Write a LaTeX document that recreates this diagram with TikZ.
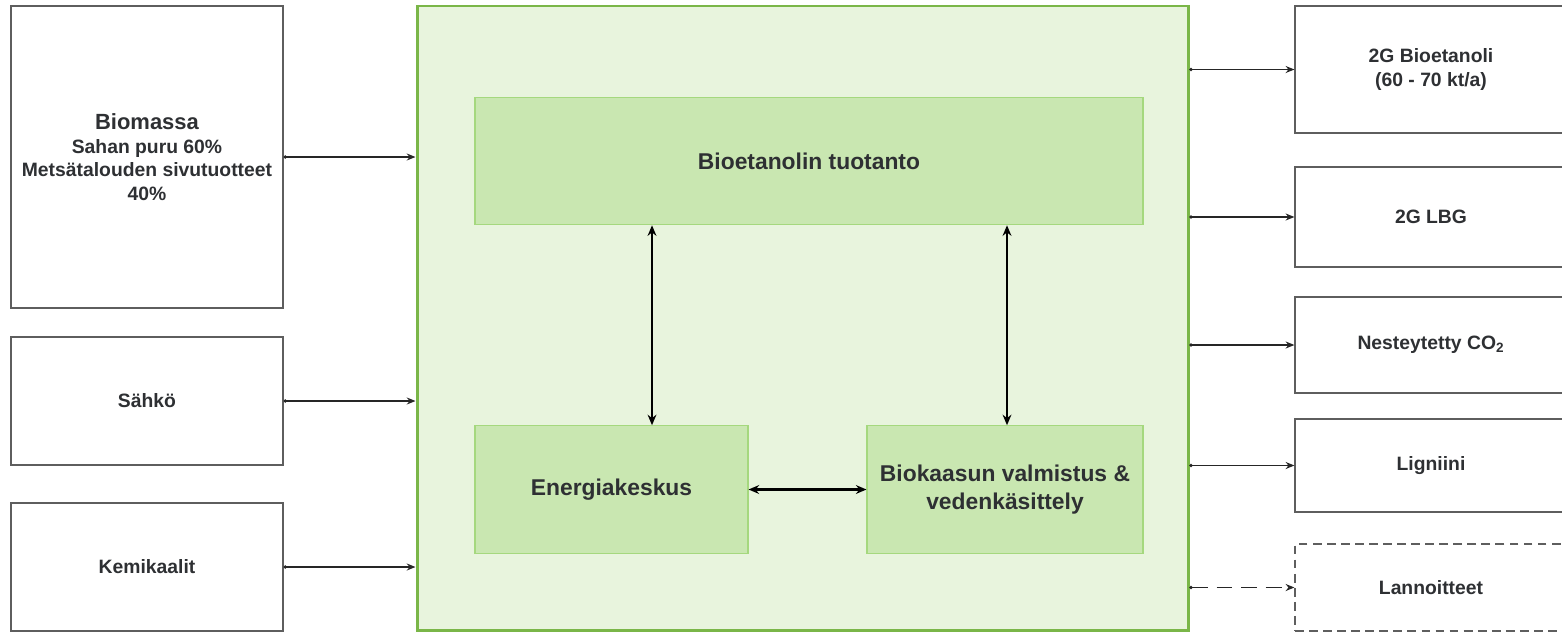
\documentclass[tikz,border=0pt]{standalone}
\usepackage{fontspec}
\setmainfont{Liberation Sans}
\usetikzlibrary{calc}
\usetikzlibrary{positioning,arrows.meta}

\definecolor{txtgray}{HTML}{2E3033}
\definecolor{boxgray}{HTML}{5E5E5E}
\definecolor{plantfill}{HTML}{E8F4DD}
\definecolor{plantdraw}{HTML}{7AB648}
\definecolor{unitfill}{HTML}{C9E7B1}
\definecolor{unitdraw}{HTML}{A5D87E}

\begin{document}
\begin{tikzpicture}[
        BoxCfg/.style={
            draw=boxgray,
            line width=0.7pt,
            fill=white,
            text=txtgray,
            align=center,
            font=\fontsize{11}{13.5}\selectfont\bfseries
        },
        InBoxCfg/.style={
            BoxCfg,
            minimum width=5.44cm
        },
        OutBoxCfg/.style={
            BoxCfg,
            minimum width=5.44cm
        },
        UnitCfg/.style={
            draw=unitdraw,
            line width=0.6pt,
            fill=unitfill,
            text=txtgray,
            align=center,
            minimum height=2.55cm,
            font=\fontsize{13}{16}\selectfont\bfseries
        },
        FlowCfg/.style={
            draw=black!85,
            line width=0.85pt,
            {Circle[length=1.8pt]}-{Stealth[length=5pt,width=4pt]}
        },
        InnerCfg/.style={
            draw=black,
            line width=1.3pt,
            {Stealth[length=6pt,width=5pt]}-{Stealth[length=6pt,width=5pt]}
        }
    ]
    \useasboundingbox (0,0) rectangle (31.24,-12.64);

    % plant
    \node[draw=plantdraw,fill=plantfill,line width=1.7pt,minimum width=15.42cm,minimum height=12.48cm] (plant) at (16.05,-6.36){};

    % inputs
    \node[InBoxCfg,minimum height=6.04cm] (biomassa) at (2.94,-3.14){{\fontsize{12.5}{15}\selectfont Biomassa}\\Sahan puru 60\%\\Metsätalouden sivutuotteet\\40\%};
    \node[InBoxCfg,minimum height=2.56cm] (sahko) at (2.94,-8.02){Sähkö};
    \node[InBoxCfg,minimum height=2.56cm] (kemi) at (2.94,-11.34){Kemikaalit};

    % units
    \node[UnitCfg,minimum width=13.36cm] (etanoli) at (16.18,-3.22){Bioetanolin tuotanto};
    \node[UnitCfg,minimum width=5.46cm] (energia) at (12.23,-9.79){Energiakeskus};
    \node[UnitCfg,minimum width=5.52cm] (biokaasu) at (20.10,-9.79){Biokaasun valmistus \&\\vedenkäsittely};

    % outputs
    \node[OutBoxCfg,minimum height=2.54cm] (out1) at (28.62,-1.39){2G Bioetanoli\\(60 - 70 kt/a)};
    \node[OutBoxCfg,minimum height=2.0cm] (out2) at (28.62,-4.34){2G LBG};
    \node[OutBoxCfg,minimum height=1.92cm] (out3) at (28.62,-6.90){Nesteytetty CO\textsubscript{2}};
    \node[OutBoxCfg,minimum height=1.86cm] (out4) at (28.62,-9.31){Ligniini};
    \node[OutBoxCfg,minimum height=1.74cm,dash pattern=on 5pt off 3pt] (out5) at (28.62,-11.75){Lannoitteet};

    % input arrows
    \foreach \src in {biomassa,sahko,kemi}
        \draw[FlowCfg] (\src.east) -- (\src.east -| plant.west);

    % output arrows
    \foreach \dst in {out1,out2,out3,out4}
        \draw[FlowCfg] (plant.east |- \dst.west) -- (\dst.west);
    \draw[FlowCfg,dash pattern=on 9pt off 5pt] (plant.east |- out5.west) -- (out5.west);

    % inner arrows
    \coordinate (eTop) at ($(energia.north)+(0.81,0)$);
    \coordinate (bTop) at ($(biokaasu.north)+(0.04,0)$);
    \draw[InnerCfg] (eTop) -- (eTop |- etanoli.south);
    \draw[InnerCfg] (bTop) -- (bTop |- etanoli.south);
    \draw[InnerCfg,line width=1.8pt] (energia.east) -- (biokaasu.west);

\end{tikzpicture}
\end{document}
